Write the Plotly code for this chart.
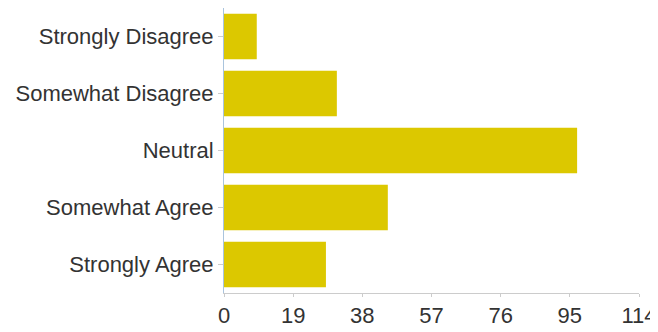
import plotly.graph_objects as go

categories = ["Strongly Disagree", "Somewhat Disagree", "Neutral", "Somewhat Agree", "Strongly Agree"]
counts = [9, 31, 97, 45, 28]
x_ticks = [0, 19, 38, 57, 76, 95, 114]

fig = go.Figure(go.Bar(
    y=categories, x=counts, orientation="h",
    marker=dict(color="#DCC800", line=dict(width=0)),
))
# page body has an 8px margin, so the figure is sized/offset to compensate
fig.update_layout(
    width=650, height=324,
    margin=dict(l=216, r=19, t=0, b=39, autoexpand=False),
    paper_bgcolor="white", plot_bgcolor="white",
    bargap=0.2, showlegend=False,
    font=dict(family="Liberation Sans, Arial, sans-serif", size=22, color="#333333"),
)
fig.update_xaxes(range=[0, 114], tickvals=x_ticks, showgrid=False, zeroline=False,
                 showline=True, linecolor="#cccccc", linewidth=1, automargin=False,
                 ticks="outside", ticklen=3, tickcolor="#cccccc")
fig.update_yaxes(autorange="reversed", categoryorder="array", categoryarray=categories,
                 showgrid=False, showline=True, linecolor="#aac4dd", linewidth=1, automargin=False,
                 ticks="outside", ticklen=5, tickcolor="#cccccc")
fig.write_html("out.html")
